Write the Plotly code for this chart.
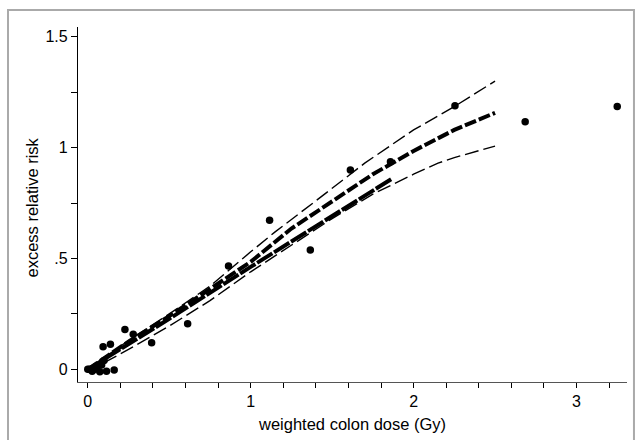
import plotly.graph_objects as go

# observed category-level data points
dose_pts = [0.0, 0.01, 0.027, 0.045, 0.06, 0.074, 0.085, 0.094, 0.10, 0.115, 0.139, 0.162,
            0.228, 0.279, 0.392, 0.613, 0.864, 1.116, 1.366, 1.612, 1.858, 2.254, 2.685, 3.25]
err_pts = [0.0, 0.0, -0.008, 0.0, 0.015, -0.011, 0.02, 0.102, 0.04, -0.008, 0.113, -0.003,
           0.18, 0.158, 0.12, 0.206, 0.466, 0.673, 0.538, 0.899, 0.936, 1.189, 1.117, 1.185]

# smoothed fit and confidence bounds
fit_dose = [0, 0.25, 0.5, 0.75, 1.0, 1.25, 1.5, 1.75, 2.0, 2.25, 2.5]
fit_err = [0, 0.125, 0.24, 0.36, 0.485, 0.635, 0.755, 0.88, 0.985, 1.08, 1.157]

upper_dose = [0, 0.25, 0.5, 0.75, 1.0, 1.15, 1.4, 1.7, 2.0, 2.25, 2.5]
upper_err = [0, 0.13, 0.25, 0.375, 0.53, 0.62, 0.76, 0.93, 1.08, 1.185, 1.30]

lower_dose = [0.1, 0.25, 0.5, 0.75, 1.0, 1.25, 1.5, 1.75, 2.0, 2.15, 2.25, 2.5]
lower_err = [0.03, 0.09, 0.195, 0.31, 0.44, 0.56, 0.68, 0.79, 0.88, 0.93, 0.955, 1.007]

# linear fit
lin_dose = [0, 0.5, 1.0, 1.5, 1.87]
lin_err = [0, 0.228, 0.462, 0.69, 0.861]

y_ticks = [0, 0.5, 1, 1.5]
y_ticktext = ["0", ".5", "1", "1.5"]
x_ticks = [0, 1, 2, 3]
x_ticktext = ["0", "1", "2", "3"]
x_title = "weighted colon dose (Gy)"
y_title = "excess relative risk"

fig = go.Figure()
fig.add_trace(go.Scatter(x=upper_dose, y=upper_err, mode="lines",
                         line=dict(color="black", width=1.4, dash="14px,5px")))
fig.add_trace(go.Scatter(x=lower_dose, y=lower_err, mode="lines",
                         line=dict(color="black", width=1.4, dash="14px,5px")))
fig.add_trace(go.Scatter(x=lin_dose, y=lin_err, mode="lines",
                         line=dict(color="black", width=4, dash="18px,2px")))
fig.add_trace(go.Scatter(x=fit_dose, y=fit_err, mode="lines",
                         line=dict(color="black", width=4, dash="12px,3px")))
fig.add_trace(go.Scatter(x=dose_pts, y=err_pts, mode="markers",
                         marker=dict(color="black", size=7.5)))

fig.update_layout(
    width=638, height=440,
    margin=dict(l=78, r=11, t=27, b=58),
    paper_bgcolor="white", plot_bgcolor="white",
    showlegend=False,
    font=dict(family="Liberation Sans, Arial, sans-serif", color="black", size=16),
    xaxis=dict(range=[-0.06, 3.31], tickvals=x_ticks, ticktext=x_ticktext,
               ticks="outside", ticklen=5, tickwidth=1, tickcolor="black",
               showline=True, linecolor="#555", linewidth=1.2,
               showgrid=False, zeroline=False,
               minor=dict(dtick=0.2, tick0=0, ticks="outside", ticklen=5, tickcolor="black", showgrid=False)),
    yaxis=dict(range=[-0.057, 1.544], tickvals=y_ticks, ticktext=y_ticktext,
               ticks="outside", ticklen=6, tickwidth=1, tickcolor="black",
               showline=True, linecolor="black", linewidth=1.2,
               showgrid=False, zeroline=False,
               minor=dict(tickvals=[0.25, 0.75, 1.25], ticks="outside", ticklen=6, tickcolor="black", showgrid=False)),
    annotations=[
        dict(text=x_title, xref="paper", yref="paper", x=0.499, y=-0.117,
             xanchor="center", yanchor="middle", showarrow=False, font=dict(size=16.5)),
        dict(text=y_title, xref="paper", yref="paper", x=-0.0838, y=0.4915,
             xanchor="center", yanchor="middle", textangle=-90, showarrow=False, font=dict(size=16.5)),
    ],
)

fig.add_shape(type="rect", xref="paper", yref="paper",
              x0=-0.1275, x1=1.0127, y0=-0.2, y1=1.048,
              line=dict(color="#aaaaaa", width=2), fillcolor="rgba(0,0,0,0)", layer="below")

fig.write_html("out.html", config={"displayModeBar": False},
               post_script="document.body.style.margin='0px';document.body.style.overflow='hidden';")
